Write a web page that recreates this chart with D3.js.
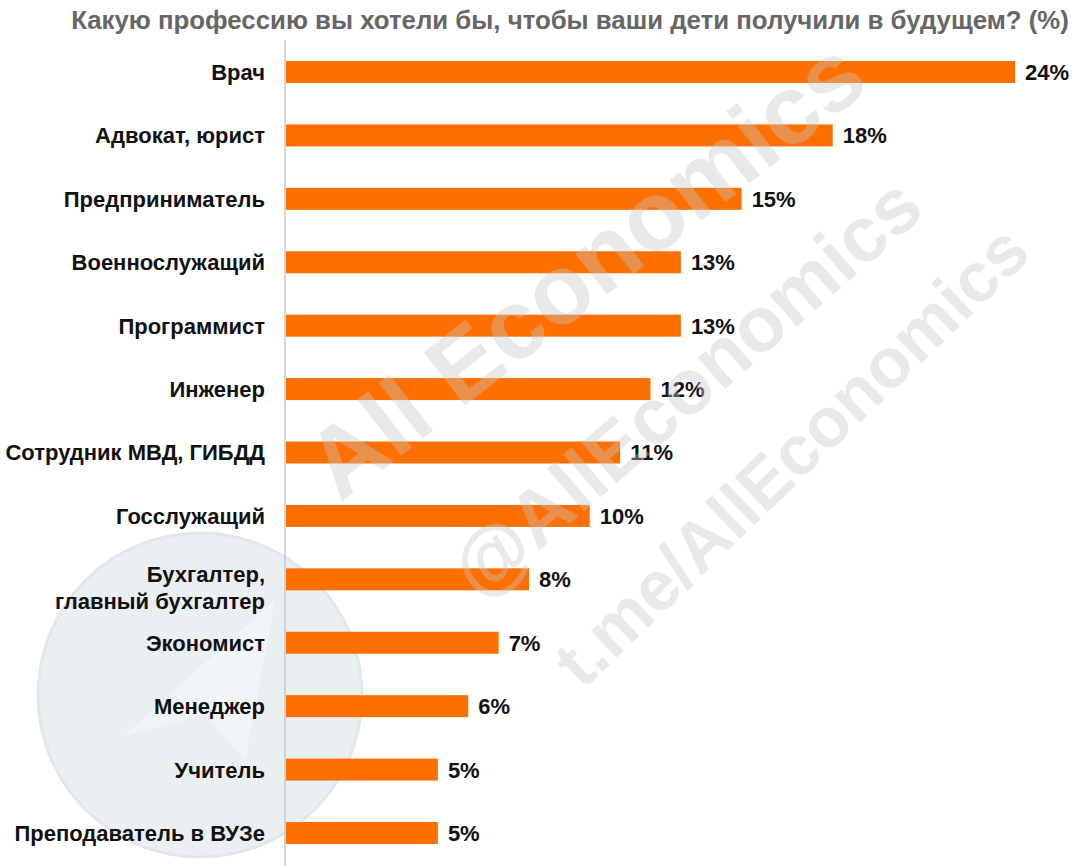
<!DOCTYPE html>
<html><head><meta charset="utf-8">
<script src="https://cdn.jsdelivr.net/npm/d3@7"></script>
<style>body{margin:0;background:#fff}svg{display:block}</style>
</head><body>
<script>
const title = "Какую профессию вы хотели бы, чтобы ваши дети получили в будущем? (%)";
const categories = ["Врач","Адвокат, юрист","Предприниматель","Военнослужащий","Программист","Инженер","Сотрудник МВД, ГИБДД","Госслужащий","Бухгалтер,\nглавный бухгалтер","Экономист","Менеджер","Учитель","Преподаватель в ВУЗе"];
const values = [24,18,15,13,13,12,11,10,8,7,6,5,5];
const watermarks = ["All Economics","@AllEconomics","t.me/AllEconomics"];

const W=1080,H=866;
const svg=d3.select("body").append("svg").attr("width",W).attr("height",H);
const font="'Liberation Sans', Arial, sans-serif";

// telegram-like circle watermark
svg.append("circle").attr("cx",200).attr("cy",695).attr("r",162).attr("fill","#eaeff2").attr("stroke","#e2e7ea").attr("stroke-width",3);
svg.append("path").attr("d","M125,735 L275,600 L245,760 L205,715 Z").attr("fill","#f2f5f7");

const x=d3.scaleLinear().domain([0,24]).range([286,1015]);
const y=d3.scalePoint().domain(categories).range([72,833]);
const bh=22;

svg.append("text").attr("x",570).attr("y",29).attr("text-anchor","middle").attr("font-family",font)
  .attr("font-weight","bold").attr("font-size",25.8).attr("fill","#666").text(title);

svg.append("line").attr("x1",285).attr("x2",285).attr("y1",40).attr("y2",866).attr("stroke","#c8c8c8").attr("stroke-width",1.5);

const g=svg.append("g");
g.selectAll("rect").data(values).join("rect")
  .attr("x",x(0)).attr("y",(d,i)=>y(categories[i])-bh/2).attr("width",d=>x(d)-x(0)).attr("height",bh)
  .attr("fill","#ff6f00");

g.selectAll("text.val").data(values).join("text").attr("class","val")
  .attr("x",d=>x(d)+10).attr("y",(d,i)=>y(categories[i])).attr("dy","0.36em")
  .attr("font-family",font).attr("font-weight","bold").attr("font-size",22).attr("fill","#111").text(d=>d+"%");

categories.forEach(c=>{
  const lines=c.split("\n");
  const cy=y(c);
  const t=g.append("text").attr("x",265).attr("text-anchor","end").attr("font-family",font)
    .attr("font-weight","bold").attr("font-size",22).attr("fill","#111");
  const offs = lines.length===1 ? [0] : [-5,22];
  lines.forEach((l,i)=>{
    t.append("tspan").attr("x",265).attr("y",cy+offs[i]).attr("dy","0.36em").text(l);
  });
});

// text watermark on top
const wm=svg.append("g").attr("opacity",0.38);
const wmSpec=[[watermarks[0],590,275,-38,98],[watermarks[1],690,392,-41,78],[watermarks[2],795,460,-44,70]];
wmSpec.forEach(([t,x0,y0,a,fs])=>{
  wm.append("text").attr("transform",`translate(${x0},${y0}) rotate(${a})`).attr("text-anchor","middle")
   .attr("dominant-baseline","middle").attr("font-family",font).attr("font-weight","bold").attr("font-size",fs)
   .attr("fill","#c4c8ca").text(t);
});
</script>
</body></html>
